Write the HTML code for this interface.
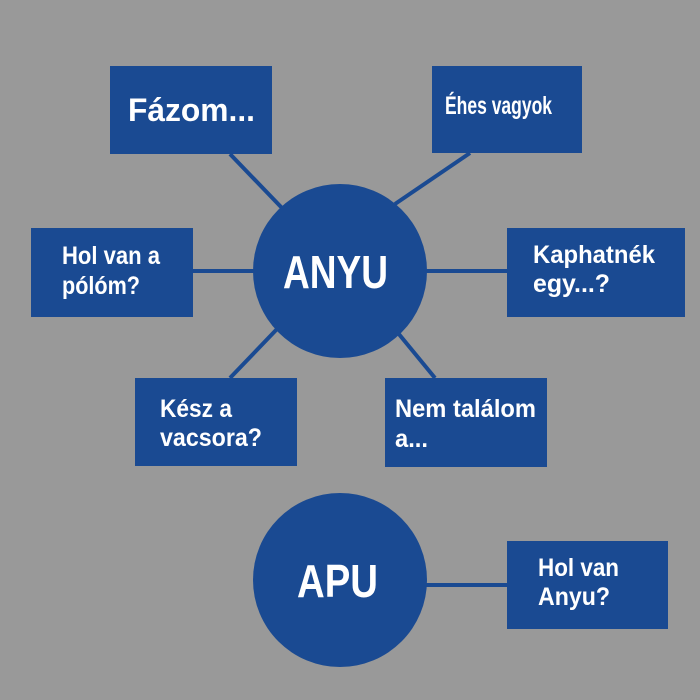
<!DOCTYPE html>
<html><head><meta charset="utf-8"><style>
html,body{margin:0;padding:0;background:#999999;}
svg{display:block}
text{font-family:"Liberation Sans",sans-serif;font-weight:bold;fill:#fff}
</style></head><body>
<svg width="700" height="700" viewBox="0 0 700 700">
<rect width="700" height="700" fill="#999999"/>
<g stroke="#1a4a92" stroke-width="4">
<line x1="230" y1="154" x2="282" y2="208"/>
<line x1="470" y1="153" x2="395" y2="204"/>
<line x1="193" y1="271" x2="254" y2="271"/>
<line x1="426" y1="271" x2="507" y2="271"/>
<line x1="230" y1="378" x2="278" y2="328"/>
<line x1="435" y1="378" x2="398" y2="333"/>
<line x1="426" y1="585" x2="507" y2="585"/>
</g>
<g fill="#1a4a92">
<rect x="110" y="66" width="162" height="88"/>
<rect x="432" y="66" width="150" height="87"/>
<rect x="31" y="228" width="162" height="89"/>
<rect x="507" y="228" width="178" height="89"/>
<rect x="135" y="378" width="162" height="88"/>
<rect x="385" y="378" width="162" height="89"/>
<rect x="507" y="541" width="161" height="88"/>
<circle cx="340" cy="271" r="87"/>
<circle cx="340" cy="580" r="87"/>
</g>
<g lengthAdjust="spacingAndGlyphs">
<text x="128" y="121" font-size="32" textLength="127" lengthAdjust="spacingAndGlyphs">Fázom...</text>
<text x="445" y="114" font-size="25" textLength="107" lengthAdjust="spacingAndGlyphs">Éhes vagyok</text>
<text x="62" y="264" font-size="25" textLength="98" lengthAdjust="spacingAndGlyphs">Hol van a</text>
<text x="62" y="294" font-size="25" textLength="78" lengthAdjust="spacingAndGlyphs">pólóm?</text>
<text x="533" y="263" font-size="25" textLength="122" lengthAdjust="spacingAndGlyphs">Kaphatnék</text>
<text x="533" y="292" font-size="25" textLength="77" lengthAdjust="spacingAndGlyphs">egy...?</text>
<text x="160" y="417" font-size="25" textLength="72" lengthAdjust="spacingAndGlyphs">Kész a</text>
<text x="160" y="446" font-size="25" textLength="102" lengthAdjust="spacingAndGlyphs">vacsora?</text>
<text x="395" y="417" font-size="25" textLength="141" lengthAdjust="spacingAndGlyphs">Nem találom</text>
<text x="395" y="447" font-size="25" textLength="33" lengthAdjust="spacingAndGlyphs">a...</text>
<text x="283" y="288" font-size="46" textLength="105" lengthAdjust="spacingAndGlyphs">ANYU</text>
<text x="297" y="597" font-size="46" textLength="81" lengthAdjust="spacingAndGlyphs">APU</text>
<text x="538" y="576" font-size="25" textLength="81" lengthAdjust="spacingAndGlyphs">Hol van</text>
<text x="538" y="605" font-size="25" textLength="72" lengthAdjust="spacingAndGlyphs">Anyu?</text>
</g>
</svg>
</body></html>
